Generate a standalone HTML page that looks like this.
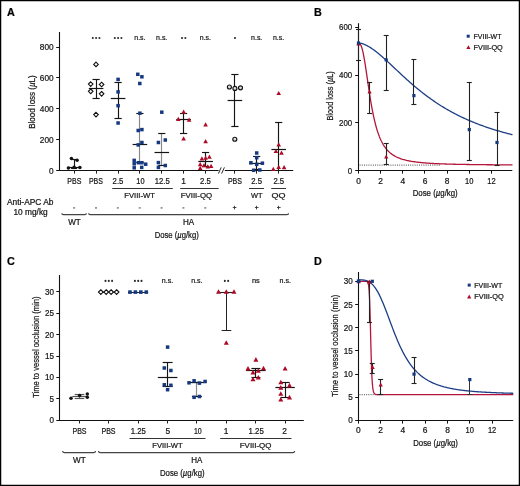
<!DOCTYPE html>
<html><head><meta charset="utf-8"><style>
html,body{margin:0;padding:0;background:#fff;}
svg{display:block;will-change:transform;}
text{font-family:"Liberation Sans", sans-serif;stroke:#151515;stroke-width:0.22px;}
</style></head><body>
<svg width="520" height="486" viewBox="0 0 520 486">
<rect width="520" height="486" fill="#fff"/>
<text x="6.90" y="15.70" font-size="10.8" text-anchor="start" fill="#000" font-weight="bold">A</text>
<line x1="59.50" y1="32.00" x2="59.50" y2="170.90" stroke="#111" stroke-width="1.1"/>
<line x1="56.20" y1="170.50" x2="59.50" y2="170.50" stroke="#111" stroke-width="1"/>
<text x="53.60" y="173.50" font-size="8.6" text-anchor="end" fill="#151515" textLength="4.60" lengthAdjust="spacingAndGlyphs">0</text>
<line x1="56.20" y1="139.50" x2="59.50" y2="139.50" stroke="#111" stroke-width="1"/>
<text x="53.60" y="142.65" font-size="8.6" text-anchor="end" fill="#151515" textLength="13.80" lengthAdjust="spacingAndGlyphs">200</text>
<line x1="56.20" y1="108.50" x2="59.50" y2="108.50" stroke="#111" stroke-width="1"/>
<text x="53.60" y="111.80" font-size="8.6" text-anchor="end" fill="#151515" textLength="13.80" lengthAdjust="spacingAndGlyphs">400</text>
<line x1="56.20" y1="77.50" x2="59.50" y2="77.50" stroke="#111" stroke-width="1"/>
<text x="53.60" y="80.95" font-size="8.6" text-anchor="end" fill="#151515" textLength="13.80" lengthAdjust="spacingAndGlyphs">600</text>
<line x1="56.20" y1="47.50" x2="59.50" y2="47.50" stroke="#111" stroke-width="1"/>
<text x="53.60" y="50.10" font-size="8.6" text-anchor="end" fill="#151515" textLength="13.80" lengthAdjust="spacingAndGlyphs">800</text>
<text x="35.00" y="102.05" font-size="9.6" text-anchor="middle" fill="#151515" textLength="53.60" lengthAdjust="spacingAndGlyphs" transform="rotate(-90 35.00 102.05)">Blood loss (<tspan font-style="italic">µ</tspan>L)</text>
<line x1="59.00" y1="170.50" x2="218.60" y2="170.50" stroke="#111" stroke-width="1.1"/>
<line x1="224.80" y1="170.50" x2="293.20" y2="170.50" stroke="#111" stroke-width="1.1"/>
<line x1="218.40" y1="173.60" x2="221.20" y2="167.40" stroke="#111" stroke-width="0.9"/>
<line x1="221.60" y1="173.60" x2="224.40" y2="167.40" stroke="#111" stroke-width="0.9"/>
<line x1="74.50" y1="170.40" x2="74.50" y2="173.60" stroke="#222" stroke-width="1"/>
<line x1="96.50" y1="170.40" x2="96.50" y2="173.60" stroke="#222" stroke-width="1"/>
<line x1="118.50" y1="170.40" x2="118.50" y2="173.60" stroke="#222" stroke-width="1"/>
<line x1="139.50" y1="170.40" x2="139.50" y2="173.60" stroke="#222" stroke-width="1"/>
<line x1="161.50" y1="170.40" x2="161.50" y2="173.60" stroke="#222" stroke-width="1"/>
<line x1="183.50" y1="170.40" x2="183.50" y2="173.60" stroke="#222" stroke-width="1"/>
<line x1="205.50" y1="170.40" x2="205.50" y2="173.60" stroke="#222" stroke-width="1"/>
<line x1="234.50" y1="170.40" x2="234.50" y2="173.60" stroke="#222" stroke-width="1"/>
<line x1="256.50" y1="170.40" x2="256.50" y2="173.60" stroke="#222" stroke-width="1"/>
<line x1="278.50" y1="170.40" x2="278.50" y2="173.60" stroke="#222" stroke-width="1"/>
<line x1="74.50" y1="159.40" x2="74.50" y2="168.60" stroke="#151515" stroke-width="1.15"/>
<line x1="71.10" y1="159.50" x2="77.10" y2="159.50" stroke="#151515" stroke-width="1.15"/>
<line x1="71.10" y1="168.50" x2="77.10" y2="168.50" stroke="#151515" stroke-width="1.15"/>
<line x1="68.10" y1="167.50" x2="80.10" y2="167.50" stroke="#151515" stroke-width="1.2"/>
<circle cx="71.40" cy="158.50" r="1.75" fill="#111"/>
<circle cx="77.10" cy="160.30" r="1.75" fill="#111"/>
<circle cx="68.40" cy="167.90" r="1.75" fill="#111"/>
<circle cx="74.10" cy="167.20" r="1.75" fill="#111"/>
<circle cx="79.90" cy="167.50" r="1.75" fill="#111"/>
<line x1="96.50" y1="79.40" x2="96.50" y2="98.90" stroke="#151515" stroke-width="1.15"/>
<line x1="92.50" y1="79.50" x2="99.70" y2="79.50" stroke="#151515" stroke-width="1.15"/>
<line x1="92.50" y1="98.50" x2="99.70" y2="98.50" stroke="#151515" stroke-width="1.15"/>
<line x1="88.80" y1="88.50" x2="103.40" y2="88.50" stroke="#151515" stroke-width="1.2"/>
<path d="M96.00 62.10L98.30 64.40L96.00 66.70L93.70 64.40Z" fill="#fff" stroke="#111" stroke-width="1.1"/>
<path d="M90.70 81.80L93.00 84.10L90.70 86.40L88.40 84.10Z" fill="#fff" stroke="#111" stroke-width="1.1"/>
<path d="M101.60 82.20L103.90 84.50L101.60 86.80L99.30 84.50Z" fill="#fff" stroke="#111" stroke-width="1.1"/>
<path d="M90.70 89.00L93.00 91.30L90.70 93.60L88.40 91.30Z" fill="#fff" stroke="#111" stroke-width="1.1"/>
<path d="M101.60 91.50L103.90 93.80L101.60 96.10L99.30 93.80Z" fill="#fff" stroke="#111" stroke-width="1.1"/>
<path d="M96.00 112.30L98.30 114.60L96.00 116.90L93.70 114.60Z" fill="#fff" stroke="#111" stroke-width="1.1"/>
<line x1="118.50" y1="82.90" x2="118.50" y2="118.90" stroke="#151515" stroke-width="1.15"/>
<line x1="114.50" y1="82.50" x2="121.70" y2="82.50" stroke="#151515" stroke-width="1.15"/>
<line x1="114.50" y1="118.50" x2="121.70" y2="118.50" stroke="#151515" stroke-width="1.15"/>
<line x1="110.80" y1="98.50" x2="125.40" y2="98.50" stroke="#151515" stroke-width="1.2"/>
<rect x="116.35" y="77.65" width="3.5" height="3.5" fill="#15387f"/>
<rect x="116.35" y="90.15" width="3.5" height="3.5" fill="#15387f"/>
<rect x="116.35" y="103.95" width="3.5" height="3.5" fill="#15387f"/>
<rect x="116.35" y="121.25" width="3.5" height="3.5" fill="#15387f"/>
<line x1="139.50" y1="113.20" x2="139.50" y2="162.80" stroke="#888" stroke-width="1.15"/>
<line x1="136.30" y1="113.50" x2="143.50" y2="113.50" stroke="#151515" stroke-width="1.15"/>
<line x1="136.30" y1="162.50" x2="143.50" y2="162.50" stroke="#151515" stroke-width="1.15"/>
<line x1="132.60" y1="144.50" x2="147.20" y2="144.50" stroke="#151515" stroke-width="1.2"/>
<rect x="136.05" y="72.55" width="3.5" height="3.5" fill="#15387f"/>
<rect x="140.15" y="75.05" width="3.5" height="3.5" fill="#15387f"/>
<rect x="138.05" y="81.75" width="3.5" height="3.5" fill="#15387f"/>
<rect x="138.15" y="111.45" width="3.5" height="3.5" fill="#15387f"/>
<rect x="136.45" y="128.75" width="3.5" height="3.5" fill="#15387f"/>
<rect x="140.15" y="127.85" width="3.5" height="3.5" fill="#15387f"/>
<rect x="136.45" y="143.15" width="3.5" height="3.5" fill="#15387f"/>
<rect x="140.15" y="140.75" width="3.5" height="3.5" fill="#15387f"/>
<rect x="132.45" y="158.65" width="3.5" height="3.5" fill="#15387f"/>
<rect x="132.45" y="162.05" width="3.5" height="3.5" fill="#15387f"/>
<rect x="132.45" y="166.05" width="3.5" height="3.5" fill="#15387f"/>
<rect x="136.65" y="160.95" width="3.5" height="3.5" fill="#15387f"/>
<rect x="140.15" y="160.95" width="3.5" height="3.5" fill="#15387f"/>
<rect x="143.95" y="162.45" width="3.5" height="3.5" fill="#15387f"/>
<rect x="139.95" y="165.65" width="3.5" height="3.5" fill="#15387f"/>
<line x1="161.50" y1="133.10" x2="161.50" y2="165.20" stroke="#888" stroke-width="1.15"/>
<line x1="158.20" y1="133.50" x2="165.40" y2="133.50" stroke="#151515" stroke-width="1.15"/>
<line x1="158.20" y1="165.50" x2="165.40" y2="165.50" stroke="#151515" stroke-width="1.15"/>
<line x1="154.50" y1="152.50" x2="169.10" y2="152.50" stroke="#151515" stroke-width="1.2"/>
<rect x="160.05" y="110.45" width="3.5" height="3.5" fill="#15387f"/>
<rect x="156.65" y="140.75" width="3.5" height="3.5" fill="#15387f"/>
<rect x="163.55" y="138.25" width="3.5" height="3.5" fill="#15387f"/>
<rect x="156.65" y="160.85" width="3.5" height="3.5" fill="#15387f"/>
<rect x="163.55" y="163.75" width="3.5" height="3.5" fill="#15387f"/>
<rect x="156.65" y="165.65" width="3.5" height="3.5" fill="#15387f"/>
<line x1="183.50" y1="113.30" x2="183.50" y2="133.50" stroke="#151515" stroke-width="1.15"/>
<line x1="180.00" y1="113.50" x2="187.20" y2="113.50" stroke="#151515" stroke-width="1.15"/>
<line x1="180.00" y1="133.50" x2="187.20" y2="133.50" stroke="#151515" stroke-width="1.15"/>
<line x1="176.30" y1="119.50" x2="190.90" y2="119.50" stroke="#151515" stroke-width="1.2"/>
<path d="M183.60 109.48L185.90 113.68L181.30 113.68Z" fill="#ad0a26"/>
<path d="M178.30 116.68L180.60 120.88L176.00 120.88Z" fill="#ad0a26"/>
<path d="M189.10 117.58L191.40 121.78L186.80 121.78Z" fill="#ad0a26"/>
<path d="M183.60 136.18L185.90 140.38L181.30 140.38Z" fill="#ad0a26"/>
<line x1="205.50" y1="152.70" x2="205.50" y2="166.70" stroke="#151515" stroke-width="1.15"/>
<line x1="202.00" y1="152.50" x2="209.20" y2="152.50" stroke="#151515" stroke-width="1.15"/>
<line x1="202.00" y1="166.50" x2="209.20" y2="166.50" stroke="#151515" stroke-width="1.15"/>
<line x1="198.30" y1="161.50" x2="212.90" y2="161.50" stroke="#151515" stroke-width="1.2"/>
<path d="M205.60 122.18L207.90 126.38L203.30 126.38Z" fill="#ad0a26"/>
<path d="M205.60 138.98L207.90 143.18L203.30 143.18Z" fill="#ad0a26"/>
<path d="M201.90 156.28L204.20 160.48L199.60 160.48Z" fill="#ad0a26"/>
<path d="M205.60 155.48L207.90 159.68L203.30 159.68Z" fill="#ad0a26"/>
<path d="M209.40 154.58L211.70 158.78L207.10 158.78Z" fill="#ad0a26"/>
<path d="M200.20 161.98L202.50 166.18L197.90 166.18Z" fill="#ad0a26"/>
<path d="M204.00 162.98L206.30 167.18L201.70 167.18Z" fill="#ad0a26"/>
<path d="M207.80 164.18L210.10 168.38L205.50 168.38Z" fill="#ad0a26"/>
<path d="M211.10 163.68L213.40 167.88L208.80 167.88Z" fill="#ad0a26"/>
<path d="M200.20 165.78L202.50 169.98L197.90 169.98Z" fill="#ad0a26"/>
<line x1="234.50" y1="74.80" x2="234.50" y2="126.30" stroke="#151515" stroke-width="1.15"/>
<line x1="231.30" y1="74.50" x2="238.50" y2="74.50" stroke="#151515" stroke-width="1.15"/>
<line x1="231.30" y1="126.50" x2="238.50" y2="126.50" stroke="#151515" stroke-width="1.15"/>
<line x1="227.60" y1="100.50" x2="242.20" y2="100.50" stroke="#151515" stroke-width="1.2"/>
<circle cx="229.40" cy="87.00" r="2.0" fill="#ddd" stroke="#111" stroke-width="1.15"/>
<circle cx="234.90" cy="88.40" r="2.0" fill="#ddd" stroke="#111" stroke-width="1.15"/>
<circle cx="240.50" cy="87.80" r="2.0" fill="#ddd" stroke="#111" stroke-width="1.15"/>
<circle cx="234.80" cy="139.20" r="2.0" fill="#ddd" stroke="#111" stroke-width="1.15"/>
<line x1="256.50" y1="156.60" x2="256.50" y2="169.50" stroke="#151515" stroke-width="1.15"/>
<line x1="253.10" y1="156.50" x2="260.30" y2="156.50" stroke="#151515" stroke-width="1.15"/>
<line x1="253.10" y1="169.50" x2="260.30" y2="169.50" stroke="#151515" stroke-width="1.15"/>
<line x1="249.40" y1="163.50" x2="264.00" y2="163.50" stroke="#151515" stroke-width="1.2"/>
<rect x="254.95" y="151.25" width="3.5" height="3.5" fill="#15387f"/>
<rect x="254.95" y="155.95" width="3.5" height="3.5" fill="#15387f"/>
<rect x="249.15" y="161.05" width="3.5" height="3.5" fill="#15387f"/>
<rect x="254.95" y="162.55" width="3.5" height="3.5" fill="#15387f"/>
<rect x="260.65" y="161.45" width="3.5" height="3.5" fill="#15387f"/>
<rect x="251.85" y="168.55" width="3.5" height="3.5" fill="#15387f"/>
<rect x="258.05" y="168.25" width="3.5" height="3.5" fill="#15387f"/>
<line x1="275.10" y1="122.50" x2="282.30" y2="122.50" stroke="#151515" stroke-width="1.15"/>
<line x1="271.40" y1="149.50" x2="286.00" y2="149.50" stroke="#151515" stroke-width="1.2"/>
<line x1="278.50" y1="122.70" x2="278.50" y2="170.40" stroke="#151515" stroke-width="1.15"/>
<path d="M278.70 90.88L281.00 95.08L276.40 95.08Z" fill="#ad0a26"/>
<path d="M278.70 142.28L281.00 146.48L276.40 146.48Z" fill="#ad0a26"/>
<path d="M275.90 148.88L278.20 153.08L273.60 153.08Z" fill="#ad0a26"/>
<path d="M281.50 150.48L283.80 154.68L279.20 154.68Z" fill="#ad0a26"/>
<path d="M273.30 166.78L275.60 170.98L271.00 170.98Z" fill="#ad0a26"/>
<path d="M278.70 164.68L281.00 168.88L276.40 168.88Z" fill="#ad0a26"/>
<path d="M284.10 164.98L286.40 169.18L281.80 169.18Z" fill="#ad0a26"/>
<circle cx="92.80" cy="38.00" r="1.05" fill="#2a2a2a"/>
<circle cx="96.10" cy="38.00" r="1.05" fill="#2a2a2a"/>
<circle cx="99.40" cy="38.00" r="1.05" fill="#2a2a2a"/>
<circle cx="114.80" cy="38.00" r="1.05" fill="#2a2a2a"/>
<circle cx="118.10" cy="38.00" r="1.05" fill="#2a2a2a"/>
<circle cx="121.40" cy="38.00" r="1.05" fill="#2a2a2a"/>
<text x="139.90" y="40.20" font-size="7.6" text-anchor="middle" fill="#151515" textLength="11.20" lengthAdjust="spacingAndGlyphs">n.s.</text>
<text x="161.70" y="40.20" font-size="7.6" text-anchor="middle" fill="#151515" textLength="11.20" lengthAdjust="spacingAndGlyphs">n.s.</text>
<circle cx="182.05" cy="38.00" r="1.05" fill="#2a2a2a"/>
<circle cx="185.35" cy="38.00" r="1.05" fill="#2a2a2a"/>
<text x="205.40" y="40.20" font-size="7.6" text-anchor="middle" fill="#151515" textLength="11.20" lengthAdjust="spacingAndGlyphs">n.s.</text>
<circle cx="235.00" cy="38.00" r="1.05" fill="#2a2a2a"/>
<text x="256.70" y="40.20" font-size="7.6" text-anchor="middle" fill="#151515" textLength="11.20" lengthAdjust="spacingAndGlyphs">n.s.</text>
<text x="278.50" y="40.20" font-size="7.6" text-anchor="middle" fill="#151515" textLength="11.20" lengthAdjust="spacingAndGlyphs">n.s.</text>
<text x="74.30" y="183.50" font-size="8.4" text-anchor="middle" fill="#151515" textLength="14.00" lengthAdjust="spacingAndGlyphs">PBS</text>
<text x="95.90" y="183.50" font-size="8.4" text-anchor="middle" fill="#151515" textLength="14.00" lengthAdjust="spacingAndGlyphs">PBS</text>
<text x="118.00" y="183.50" font-size="8.4" text-anchor="middle" fill="#151515" textLength="10.80" lengthAdjust="spacingAndGlyphs">2.5</text>
<text x="140.40" y="183.50" font-size="8.4" text-anchor="middle" fill="#151515" textLength="8.20" lengthAdjust="spacingAndGlyphs">10</text>
<text x="162.20" y="183.50" font-size="8.4" text-anchor="middle" fill="#151515" textLength="15.00" lengthAdjust="spacingAndGlyphs">12.5</text>
<text x="183.50" y="183.50" font-size="8.4" text-anchor="middle" fill="#151515">1</text>
<text x="205.50" y="183.50" font-size="8.4" text-anchor="middle" fill="#151515" textLength="10.80" lengthAdjust="spacingAndGlyphs">2.5</text>
<text x="234.90" y="183.50" font-size="8.4" text-anchor="middle" fill="#151515" textLength="14.00" lengthAdjust="spacingAndGlyphs">PBS</text>
<text x="256.70" y="183.50" font-size="8.4" text-anchor="middle" fill="#151515" textLength="10.80" lengthAdjust="spacingAndGlyphs">2.5</text>
<text x="278.80" y="183.50" font-size="8.4" text-anchor="middle" fill="#151515" textLength="10.80" lengthAdjust="spacingAndGlyphs">2.5</text>
<line x1="112.30" y1="188.50" x2="172.80" y2="188.50" stroke="#333" stroke-width="1"/>
<line x1="180.20" y1="188.50" x2="218.70" y2="188.50" stroke="#333" stroke-width="1"/>
<line x1="249.00" y1="188.50" x2="264.00" y2="188.50" stroke="#333" stroke-width="1"/>
<line x1="271.20" y1="188.50" x2="286.00" y2="188.50" stroke="#333" stroke-width="1"/>
<text x="139.60" y="198.00" font-size="7.6" text-anchor="middle" fill="#151515" textLength="30.60" lengthAdjust="spacingAndGlyphs">FVIII-WT</text>
<text x="196.40" y="198.00" font-size="7.6" text-anchor="middle" fill="#151515" textLength="31.40" lengthAdjust="spacingAndGlyphs">FVIII-QQ</text>
<text x="256.70" y="198.00" font-size="7.6" text-anchor="middle" fill="#151515" textLength="11.50" lengthAdjust="spacingAndGlyphs">WT</text>
<text x="278.60" y="198.00" font-size="7.6" text-anchor="middle" fill="#151515" textLength="14.00" lengthAdjust="spacingAndGlyphs">QQ</text>
<text x="6.90" y="205.40" font-size="8.2" text-anchor="start" fill="#151515" textLength="46.60" lengthAdjust="spacingAndGlyphs">Anti-APC Ab</text>
<text x="13.50" y="215.30" font-size="8.2" text-anchor="start" fill="#151515" textLength="34.20" lengthAdjust="spacingAndGlyphs">10 mg/kg</text>
<rect x="73.10" y="207.2" width="2.0" height="1.4" fill="#7a7a7a"/>
<rect x="95.00" y="207.2" width="2.0" height="1.4" fill="#7a7a7a"/>
<rect x="116.80" y="207.2" width="2.0" height="1.4" fill="#7a7a7a"/>
<rect x="138.70" y="207.2" width="2.0" height="1.4" fill="#7a7a7a"/>
<rect x="160.60" y="207.2" width="2.0" height="1.4" fill="#7a7a7a"/>
<rect x="182.40" y="207.2" width="2.0" height="1.4" fill="#7a7a7a"/>
<rect x="204.30" y="207.2" width="2.0" height="1.4" fill="#7a7a7a"/>
<line x1="232.80" y1="207.50" x2="236.40" y2="207.50" stroke="#333" stroke-width="0.9"/>
<line x1="234.50" y1="205.80" x2="234.50" y2="209.40" stroke="#333" stroke-width="0.9"/>
<line x1="254.90" y1="207.50" x2="258.50" y2="207.50" stroke="#333" stroke-width="0.9"/>
<line x1="256.50" y1="205.80" x2="256.50" y2="209.40" stroke="#333" stroke-width="0.9"/>
<line x1="277.00" y1="207.50" x2="280.60" y2="207.50" stroke="#333" stroke-width="0.9"/>
<line x1="278.50" y1="205.80" x2="278.50" y2="209.40" stroke="#333" stroke-width="0.9"/>
<path d="M61.90 213.20Q61.90 214.70 63.40 214.70L84.80 214.70Q86.30 214.70 86.30 213.20" fill="none" stroke="#444" stroke-width="1.3"/>
<path d="M88.70 213.20Q88.70 214.70 90.20 214.70L287.00 214.70Q288.50 214.70 288.50 213.20" fill="none" stroke="#444" stroke-width="1.3"/>
<text x="74.50" y="224.60" font-size="8.2" text-anchor="middle" fill="#151515" textLength="12.60" lengthAdjust="spacingAndGlyphs">WT</text>
<text x="188.60" y="224.70" font-size="8.2" text-anchor="middle" fill="#151515" textLength="11.20" lengthAdjust="spacingAndGlyphs">HA</text>
<text x="176.70" y="238.30" font-size="8.4" text-anchor="middle" fill="#151515" textLength="44.10" lengthAdjust="spacingAndGlyphs">Dose (<tspan font-style="italic">µ</tspan>g/kg)</text>
<text x="314.00" y="15.90" font-size="10.8" text-anchor="start" fill="#000" font-weight="bold">B</text>
<line x1="358.50" y1="23.20" x2="358.50" y2="170.90" stroke="#111" stroke-width="1.1"/>
<line x1="358.10" y1="170.50" x2="512.30" y2="170.50" stroke="#111" stroke-width="1.1"/>
<line x1="355.20" y1="170.50" x2="358.60" y2="170.50" stroke="#111" stroke-width="1"/>
<text x="352.20" y="173.50" font-size="8.6" text-anchor="end" fill="#151515" textLength="4.40" lengthAdjust="spacingAndGlyphs">0</text>
<line x1="355.20" y1="122.50" x2="358.60" y2="122.50" stroke="#111" stroke-width="1"/>
<text x="352.20" y="125.80" font-size="8.6" text-anchor="end" fill="#151515" textLength="13.20" lengthAdjust="spacingAndGlyphs">200</text>
<line x1="355.20" y1="75.50" x2="358.60" y2="75.50" stroke="#111" stroke-width="1"/>
<text x="352.20" y="78.10" font-size="8.6" text-anchor="end" fill="#151515" textLength="13.20" lengthAdjust="spacingAndGlyphs">400</text>
<line x1="355.20" y1="27.50" x2="358.60" y2="27.50" stroke="#111" stroke-width="1"/>
<text x="352.20" y="30.40" font-size="8.6" text-anchor="end" fill="#151515" textLength="13.20" lengthAdjust="spacingAndGlyphs">600</text>
<text x="333.20" y="95.90" font-size="9.6" text-anchor="middle" fill="#151515" textLength="49.30" lengthAdjust="spacingAndGlyphs" transform="rotate(-90 333.20 95.90)">Blood loss (<tspan font-style="italic">µ</tspan>L)</text>
<line x1="358.50" y1="170.40" x2="358.50" y2="173.60" stroke="#111" stroke-width="1"/>
<text x="358.50" y="183.50" font-size="8.4" text-anchor="middle" fill="#151515">0</text>
<line x1="380.50" y1="170.40" x2="380.50" y2="173.60" stroke="#111" stroke-width="1"/>
<text x="380.66" y="183.50" font-size="8.4" text-anchor="middle" fill="#151515">2</text>
<line x1="402.50" y1="170.40" x2="402.50" y2="173.60" stroke="#111" stroke-width="1"/>
<text x="402.82" y="183.50" font-size="8.4" text-anchor="middle" fill="#151515">4</text>
<line x1="424.50" y1="170.40" x2="424.50" y2="173.60" stroke="#111" stroke-width="1"/>
<text x="424.98" y="183.50" font-size="8.4" text-anchor="middle" fill="#151515">6</text>
<line x1="447.50" y1="170.40" x2="447.50" y2="173.60" stroke="#111" stroke-width="1"/>
<text x="447.14" y="183.50" font-size="8.4" text-anchor="middle" fill="#151515">8</text>
<line x1="469.50" y1="170.40" x2="469.50" y2="173.60" stroke="#111" stroke-width="1"/>
<text x="469.30" y="183.50" font-size="8.4" text-anchor="middle" fill="#151515" textLength="8.40" lengthAdjust="spacingAndGlyphs">10</text>
<line x1="491.50" y1="170.40" x2="491.50" y2="173.60" stroke="#111" stroke-width="1"/>
<text x="491.46" y="183.50" font-size="8.4" text-anchor="middle" fill="#151515" textLength="8.40" lengthAdjust="spacingAndGlyphs">12</text>
<text x="435.20" y="196.20" font-size="8.4" text-anchor="middle" fill="#151515" textLength="45.00" lengthAdjust="spacingAndGlyphs">Dose (<tspan font-style="italic">µ</tspan>g/kg)</text>
<line x1="359.60" y1="165.1" x2="440" y2="165.1" stroke="#333" stroke-width="0.9" stroke-dasharray="1 1.2"/>
<path d="M358.50 42.99 L359.27 43.14 L360.05 43.76 L360.82 45.01 L361.60 46.96 L362.37 49.61 L363.14 52.95 L363.92 56.90 L364.69 61.36 L365.47 66.22 L366.24 71.35 L367.01 76.64 L367.79 81.96 L368.56 87.23 L369.34 92.36 L370.11 97.30 L370.88 102.00 L371.66 106.44 L372.43 110.61 L373.20 114.50 L373.98 118.11 L374.75 121.45 L375.53 124.53 L376.30 127.37 L377.07 129.99 L377.85 132.39 L378.62 134.60 L379.40 136.63 L380.17 138.50 L380.94 140.21 L381.72 141.79 L382.49 143.25 L383.27 144.59 L384.04 145.82 L384.81 146.96 L385.59 148.01 L386.36 148.99 L387.14 149.89 L387.91 150.73 L388.68 151.50 L389.46 152.23 L390.23 152.90 L391.01 153.52 L391.78 154.11 L392.55 154.65 L393.33 155.16 L394.10 155.63 L394.87 156.08 L395.65 156.50 L396.42 156.89 L397.20 157.26 L397.97 157.60 L398.74 157.93 L399.52 158.23 L400.29 158.52 L401.07 158.80 L401.84 159.05 L402.61 159.30 L403.39 159.53 L404.16 159.74 L404.94 159.95 L405.71 160.15 L406.48 160.33 L407.26 160.51 L408.03 160.68 L408.81 160.84 L409.58 160.99 L410.35 161.13 L411.13 161.27 L411.90 161.40 L412.68 161.53 L413.45 161.64 L414.22 161.76 L415.00 161.87 L415.77 161.97 L416.54 162.07 L417.32 162.17 L418.09 162.26 L418.87 162.35 L419.64 162.43 L420.41 162.51 L421.19 162.59 L421.96 162.66 L422.74 162.73 L423.51 162.80 L424.28 162.87 L425.06 162.93 L425.83 162.99 L426.61 163.05 L427.38 163.11 L428.15 163.16 L428.93 163.21 L429.70 163.27 L430.48 163.31 L431.25 163.36 L432.02 163.41 L432.80 163.45 L433.57 163.49 L434.35 163.53 L435.12 163.57 L435.89 163.61 L436.67 163.65 L437.44 163.68 L438.21 163.72 L438.99 163.75 L439.76 163.79 L440.54 163.82 L441.31 163.85 L442.08 163.88 L442.86 163.91 L443.63 163.93 L444.41 163.96 L445.18 163.99 L445.95 164.01 L446.73 164.04 L447.50 164.06 L448.28 164.08 L449.05 164.11 L449.82 164.13 L450.60 164.15 L451.37 164.17 L452.15 164.19 L452.92 164.21 L453.69 164.23 L454.47 164.25 L455.24 164.27 L456.02 164.28 L456.79 164.30 L457.56 164.32 L458.34 164.33 L459.11 164.35 L459.88 164.36 L460.66 164.38 L461.43 164.39 L462.21 164.41 L462.98 164.42 L463.75 164.44 L464.53 164.45 L465.30 164.46 L466.08 164.47 L466.85 164.49 L467.62 164.50 L468.40 164.51 L469.17 164.52 L469.95 164.53 L470.72 164.54 L471.49 164.55 L472.27 164.57 L473.04 164.58 L473.82 164.59 L474.59 164.60 L475.36 164.60 L476.14 164.61 L476.91 164.62 L477.69 164.63 L478.46 164.64 L479.23 164.65 L480.01 164.66 L480.78 164.67 L481.55 164.67 L482.33 164.68 L483.10 164.69 L483.88 164.70 L484.65 164.70 L485.42 164.71 L486.20 164.72 L486.97 164.73 L487.75 164.73 L488.52 164.74 L489.29 164.75 L490.07 164.75 L490.84 164.76 L491.62 164.76 L492.39 164.77 L493.16 164.78 L493.94 164.78 L494.71 164.79 L495.49 164.79 L496.26 164.80 L497.03 164.80 L497.81 164.81 L498.58 164.81 L499.36 164.82 L500.13 164.82 L500.90 164.83 L501.68 164.83 L502.45 164.84 L503.22 164.84 L504.00 164.85 L504.77 164.85 L505.55 164.86 L506.32 164.86 L507.09 164.87 L507.87 164.87 L508.64 164.87 L509.42 164.88 L510.19 164.88 L510.96 164.89 L511.74 164.89 L512.51 164.89" fill="none" stroke="#b3163a" stroke-width="1.3" stroke-linejoin="round"/>
<path d="M358.50 42.99 L359.27 43.04 L360.05 43.14 L360.82 43.29 L361.60 43.47 L362.37 43.69 L363.14 43.95 L363.92 44.23 L364.69 44.54 L365.47 44.88 L366.24 45.25 L367.01 45.64 L367.79 46.05 L368.56 46.48 L369.34 46.94 L370.11 47.41 L370.88 47.91 L371.66 48.42 L372.43 48.95 L373.20 49.49 L373.98 50.05 L374.75 50.62 L375.53 51.21 L376.30 51.81 L377.07 52.42 L377.85 53.05 L378.62 53.68 L379.40 54.33 L380.17 54.98 L380.94 55.64 L381.72 56.31 L382.49 56.99 L383.27 57.67 L384.04 58.37 L384.81 59.06 L385.59 59.76 L386.36 60.47 L387.14 61.18 L387.91 61.90 L388.68 62.61 L389.46 63.34 L390.23 64.06 L391.01 64.78 L391.78 65.51 L392.55 66.24 L393.33 66.97 L394.10 67.70 L394.87 68.43 L395.65 69.16 L396.42 69.88 L397.20 70.61 L397.97 71.34 L398.74 72.06 L399.52 72.79 L400.29 73.51 L401.07 74.23 L401.84 74.95 L402.61 75.67 L403.39 76.38 L404.16 77.09 L404.94 77.80 L405.71 78.50 L406.48 79.20 L407.26 79.90 L408.03 80.59 L408.81 81.28 L409.58 81.96 L410.35 82.65 L411.13 83.32 L411.90 84.00 L412.68 84.66 L413.45 85.33 L414.22 85.99 L415.00 86.64 L415.77 87.29 L416.54 87.94 L417.32 88.58 L418.09 89.22 L418.87 89.85 L419.64 90.47 L420.41 91.10 L421.19 91.71 L421.96 92.32 L422.74 92.93 L423.51 93.53 L424.28 94.13 L425.06 94.72 L425.83 95.30 L426.61 95.88 L427.38 96.46 L428.15 97.03 L428.93 97.59 L429.70 98.15 L430.48 98.71 L431.25 99.26 L432.02 99.80 L432.80 100.34 L433.57 100.88 L434.35 101.41 L435.12 101.93 L435.89 102.45 L436.67 102.96 L437.44 103.47 L438.21 103.98 L438.99 104.48 L439.76 104.97 L440.54 105.46 L441.31 105.95 L442.08 106.43 L442.86 106.90 L443.63 107.37 L444.41 107.84 L445.18 108.30 L445.95 108.75 L446.73 109.21 L447.50 109.65 L448.28 110.10 L449.05 110.53 L449.82 110.97 L450.60 111.40 L451.37 111.82 L452.15 112.24 L452.92 112.66 L453.69 113.07 L454.47 113.48 L455.24 113.88 L456.02 114.28 L456.79 114.68 L457.56 115.07 L458.34 115.46 L459.11 115.84 L459.88 116.22 L460.66 116.60 L461.43 116.97 L462.21 117.34 L462.98 117.70 L463.75 118.06 L464.53 118.42 L465.30 118.77 L466.08 119.12 L466.85 119.47 L467.62 119.81 L468.40 120.15 L469.17 120.48 L469.95 120.81 L470.72 121.14 L471.49 121.47 L472.27 121.79 L473.04 122.11 L473.82 122.42 L474.59 122.73 L475.36 123.04 L476.14 123.35 L476.91 123.65 L477.69 123.95 L478.46 124.25 L479.23 124.54 L480.01 124.83 L480.78 125.12 L481.55 125.40 L482.33 125.68 L483.10 125.96 L483.88 126.24 L484.65 126.51 L485.42 126.78 L486.20 127.05 L486.97 127.31 L487.75 127.58 L488.52 127.84 L489.29 128.09 L490.07 128.35 L490.84 128.60 L491.62 128.85 L492.39 129.10 L493.16 129.34 L493.94 129.58 L494.71 129.82 L495.49 130.06 L496.26 130.30 L497.03 130.53 L497.81 130.76 L498.58 130.99 L499.36 131.21 L500.13 131.44 L500.90 131.66 L501.68 131.88 L502.45 132.10 L503.22 132.31 L504.00 132.53 L504.77 132.74 L505.55 132.95 L506.32 133.15 L507.09 133.36 L507.87 133.56 L508.64 133.76 L509.42 133.96 L510.19 134.16 L510.96 134.36 L511.74 134.55 L512.51 134.74" fill="none" stroke="#1d3f85" stroke-width="1.3" stroke-linejoin="round"/>
<line x1="358.50" y1="29.70" x2="358.50" y2="60.30" stroke="#222" stroke-width="1.1"/>
<line x1="356.00" y1="29.50" x2="361.00" y2="29.50" stroke="#222" stroke-width="1.1"/>
<line x1="356.00" y1="60.50" x2="361.00" y2="60.50" stroke="#222" stroke-width="1.1"/>
<line x1="386.50" y1="35.00" x2="386.50" y2="90.10" stroke="#222" stroke-width="1.1"/>
<line x1="383.70" y1="35.50" x2="388.70" y2="35.50" stroke="#222" stroke-width="1.1"/>
<line x1="383.70" y1="90.50" x2="388.70" y2="90.50" stroke="#222" stroke-width="1.1"/>
<line x1="413.50" y1="59.30" x2="413.50" y2="104.20" stroke="#222" stroke-width="1.1"/>
<line x1="411.40" y1="59.50" x2="416.40" y2="59.50" stroke="#222" stroke-width="1.1"/>
<line x1="411.40" y1="104.50" x2="416.40" y2="104.50" stroke="#222" stroke-width="1.1"/>
<line x1="469.50" y1="82.50" x2="469.50" y2="160.40" stroke="#222" stroke-width="1.1"/>
<line x1="466.80" y1="82.50" x2="471.80" y2="82.50" stroke="#222" stroke-width="1.1"/>
<line x1="466.80" y1="160.50" x2="471.80" y2="160.50" stroke="#222" stroke-width="1.1"/>
<line x1="497.50" y1="112.80" x2="497.50" y2="165.00" stroke="#222" stroke-width="1.1"/>
<line x1="494.50" y1="112.50" x2="499.50" y2="112.50" stroke="#222" stroke-width="1.1"/>
<line x1="494.50" y1="165.50" x2="499.50" y2="165.50" stroke="#222" stroke-width="1.1"/>
<line x1="369.50" y1="82.30" x2="369.50" y2="113.30" stroke="#222" stroke-width="1.1"/>
<line x1="367.08" y1="82.50" x2="372.08" y2="82.50" stroke="#222" stroke-width="1.1"/>
<line x1="367.08" y1="113.50" x2="372.08" y2="113.50" stroke="#222" stroke-width="1.1"/>
<line x1="386.50" y1="143.20" x2="386.50" y2="164.20" stroke="#222" stroke-width="1.1"/>
<line x1="383.70" y1="143.50" x2="388.70" y2="143.50" stroke="#222" stroke-width="1.1"/>
<line x1="383.70" y1="164.50" x2="388.70" y2="164.50" stroke="#222" stroke-width="1.1"/>
<path d="M358.40 41.60L360.50 45.60L356.30 45.60Z" fill="#ad0a26"/>
<rect x="356.90" y="41.40" width="3.2" height="3.2" fill="#15387f"/>
<rect x="384.60" y="58.30" width="3.2" height="3.2" fill="#15387f"/>
<rect x="412.30" y="94.00" width="3.2" height="3.2" fill="#15387f"/>
<rect x="467.70" y="128.00" width="3.2" height="3.2" fill="#15387f"/>
<rect x="495.40" y="140.90" width="3.2" height="3.2" fill="#15387f"/>
<path d="M369.58 89.50L371.68 93.50L367.48 93.50Z" fill="#ad0a26"/>
<path d="M386.20 154.40L388.30 158.40L384.10 158.40Z" fill="#ad0a26"/>
<rect x="466.70" y="34.70" width="3.0" height="3.0" fill="#15387f"/>
<text x="473.60" y="38.60" font-size="7.3" text-anchor="start" fill="#151515" textLength="27.80" lengthAdjust="spacingAndGlyphs">FVIII-WT</text>
<path d="M468.40 45.32L470.50 49.12L466.30 49.12Z" fill="#ad0a26"/>
<text x="473.60" y="49.60" font-size="7.3" text-anchor="start" fill="#151515" textLength="29.20" lengthAdjust="spacingAndGlyphs">FVIII-QQ</text>
<text x="6.90" y="265.00" font-size="10.8" text-anchor="start" fill="#000" font-weight="bold">C</text>
<line x1="59.50" y1="275.00" x2="59.50" y2="420.70" stroke="#111" stroke-width="1.1"/>
<line x1="59.20" y1="420.50" x2="303.80" y2="420.50" stroke="#111" stroke-width="1.1"/>
<line x1="56.30" y1="420.50" x2="59.70" y2="420.50" stroke="#111" stroke-width="1"/>
<text x="53.90" y="423.20" font-size="8.6" text-anchor="end" fill="#151515" textLength="4.50" lengthAdjust="spacingAndGlyphs">0</text>
<line x1="56.30" y1="398.50" x2="59.70" y2="398.50" stroke="#111" stroke-width="1"/>
<text x="53.90" y="401.80" font-size="8.6" text-anchor="end" fill="#151515" textLength="4.50" lengthAdjust="spacingAndGlyphs">5</text>
<line x1="56.30" y1="377.50" x2="59.70" y2="377.50" stroke="#111" stroke-width="1"/>
<text x="53.90" y="380.40" font-size="8.6" text-anchor="end" fill="#151515" textLength="9.00" lengthAdjust="spacingAndGlyphs">10</text>
<line x1="56.30" y1="356.50" x2="59.70" y2="356.50" stroke="#111" stroke-width="1"/>
<text x="53.90" y="359.00" font-size="8.6" text-anchor="end" fill="#151515" textLength="9.00" lengthAdjust="spacingAndGlyphs">15</text>
<line x1="56.30" y1="334.50" x2="59.70" y2="334.50" stroke="#111" stroke-width="1"/>
<text x="53.90" y="337.60" font-size="8.6" text-anchor="end" fill="#151515" textLength="9.00" lengthAdjust="spacingAndGlyphs">20</text>
<line x1="56.30" y1="313.50" x2="59.70" y2="313.50" stroke="#111" stroke-width="1"/>
<text x="53.90" y="316.20" font-size="8.6" text-anchor="end" fill="#151515" textLength="9.00" lengthAdjust="spacingAndGlyphs">25</text>
<line x1="56.30" y1="291.50" x2="59.70" y2="291.50" stroke="#111" stroke-width="1"/>
<text x="53.90" y="294.80" font-size="8.6" text-anchor="end" fill="#151515" textLength="9.00" lengthAdjust="spacingAndGlyphs">30</text>
<text x="38.80" y="347.20" font-size="9.6" text-anchor="middle" fill="#151515" textLength="101.30" lengthAdjust="spacingAndGlyphs" transform="rotate(-90 38.80 347.20)">Time to vessel occlusion (min)</text>
<line x1="79.50" y1="420.20" x2="79.50" y2="423.50" stroke="#222" stroke-width="1"/>
<line x1="108.50" y1="420.20" x2="108.50" y2="423.50" stroke="#222" stroke-width="1"/>
<line x1="138.50" y1="420.20" x2="138.50" y2="423.50" stroke="#222" stroke-width="1"/>
<line x1="167.50" y1="420.20" x2="167.50" y2="423.50" stroke="#222" stroke-width="1"/>
<line x1="196.50" y1="420.20" x2="196.50" y2="423.50" stroke="#222" stroke-width="1"/>
<line x1="226.50" y1="420.20" x2="226.50" y2="423.50" stroke="#222" stroke-width="1"/>
<line x1="255.50" y1="420.20" x2="255.50" y2="423.50" stroke="#222" stroke-width="1"/>
<line x1="285.50" y1="420.20" x2="285.50" y2="423.50" stroke="#222" stroke-width="1"/>
<line x1="79.50" y1="394.60" x2="79.50" y2="398.10" stroke="#777" stroke-width="1.15"/>
<line x1="74.70" y1="394.50" x2="84.30" y2="394.50" stroke="#555" stroke-width="1.15"/>
<line x1="74.70" y1="398.50" x2="84.30" y2="398.50" stroke="#555" stroke-width="1.15"/>
<line x1="72.30" y1="396.50" x2="86.70" y2="396.50" stroke="#555" stroke-width="1.2"/>
<circle cx="71.00" cy="398.20" r="1.75" fill="#111"/>
<circle cx="79.60" cy="395.60" r="1.75" fill="#111"/>
<circle cx="87.30" cy="394.10" r="1.75" fill="#111"/>
<circle cx="87.30" cy="397.20" r="1.75" fill="#111"/>
<line x1="98.50" y1="292.50" x2="119.00" y2="292.50" stroke="#222" stroke-width="1"/>
<path d="M100.80 289.75L103.15 292.10L100.80 294.45L98.45 292.10Z" fill="#fff" stroke="#111" stroke-width="1.1"/>
<path d="M106.20 289.75L108.55 292.10L106.20 294.45L103.85 292.10Z" fill="#fff" stroke="#111" stroke-width="1.1"/>
<path d="M111.10 289.75L113.45 292.10L111.10 294.45L108.75 292.10Z" fill="#fff" stroke="#111" stroke-width="1.1"/>
<path d="M116.60 289.75L118.95 292.10L116.60 294.45L114.25 292.10Z" fill="#fff" stroke="#111" stroke-width="1.1"/>
<line x1="128.00" y1="292.50" x2="148.00" y2="292.50" stroke="#222" stroke-width="1"/>
<rect x="128.20" y="290.30" width="3.6" height="3.6" fill="#15387f"/>
<rect x="133.60" y="290.30" width="3.6" height="3.6" fill="#15387f"/>
<rect x="139.00" y="290.30" width="3.6" height="3.6" fill="#15387f"/>
<rect x="144.50" y="290.30" width="3.6" height="3.6" fill="#15387f"/>
<line x1="167.50" y1="362.60" x2="167.50" y2="386.90" stroke="#151515" stroke-width="1.15"/>
<line x1="162.60" y1="362.50" x2="172.60" y2="362.50" stroke="#151515" stroke-width="1.15"/>
<line x1="162.60" y1="386.50" x2="172.60" y2="386.50" stroke="#151515" stroke-width="1.15"/>
<line x1="157.80" y1="377.50" x2="177.40" y2="377.50" stroke="#151515" stroke-width="1.2"/>
<rect x="165.85" y="345.35" width="3.5" height="3.5" fill="#15387f"/>
<rect x="162.55" y="366.25" width="3.5" height="3.5" fill="#15387f"/>
<rect x="169.15" y="368.75" width="3.5" height="3.5" fill="#15387f"/>
<rect x="162.55" y="383.05" width="3.5" height="3.5" fill="#15387f"/>
<rect x="169.15" y="383.55" width="3.5" height="3.5" fill="#15387f"/>
<rect x="165.85" y="387.95" width="3.5" height="3.5" fill="#15387f"/>
<line x1="196.50" y1="382.30" x2="196.50" y2="396.30" stroke="#888" stroke-width="1.15"/>
<line x1="191.90" y1="382.50" x2="201.90" y2="382.50" stroke="#151515" stroke-width="1.15"/>
<line x1="191.90" y1="396.50" x2="201.90" y2="396.50" stroke="#151515" stroke-width="1.15"/>
<line x1="189.90" y1="382.50" x2="203.90" y2="382.50" stroke="#151515" stroke-width="1.2"/>
<rect x="187.25" y="381.05" width="3.5" height="3.5" fill="#15387f"/>
<rect x="192.35" y="379.05" width="3.5" height="3.5" fill="#15387f"/>
<rect x="197.65" y="381.35" width="3.5" height="3.5" fill="#15387f"/>
<rect x="203.35" y="379.75" width="3.5" height="3.5" fill="#15387f"/>
<rect x="192.35" y="395.55" width="3.5" height="3.5" fill="#15387f"/>
<rect x="197.65" y="394.75" width="3.5" height="3.5" fill="#15387f"/>
<line x1="226.50" y1="292.00" x2="226.50" y2="330.30" stroke="#222" stroke-width="1"/>
<line x1="218.50" y1="292.50" x2="234.00" y2="292.50" stroke="#222" stroke-width="1.1"/>
<line x1="221.60" y1="330.50" x2="231.30" y2="330.50" stroke="#222" stroke-width="1"/>
<path d="M218.50 289.24L221.00 293.84L216.00 293.84Z" fill="#ad0a26"/>
<path d="M226.30 289.24L228.80 293.84L223.80 293.84Z" fill="#ad0a26"/>
<path d="M234.00 289.24L236.50 293.84L231.50 293.84Z" fill="#ad0a26"/>
<path d="M226.30 340.24L228.80 344.84L223.80 344.84Z" fill="#ad0a26"/>
<line x1="255.50" y1="368.30" x2="255.50" y2="377.00" stroke="#151515" stroke-width="1.15"/>
<line x1="251.40" y1="368.50" x2="260.40" y2="368.50" stroke="#151515" stroke-width="1.15"/>
<line x1="251.40" y1="377.50" x2="260.40" y2="377.50" stroke="#151515" stroke-width="1.15"/>
<line x1="246.20" y1="370.50" x2="265.60" y2="370.50" stroke="#151515" stroke-width="1.2"/>
<path d="M255.90 357.04L258.40 361.64L253.40 361.64Z" fill="#ad0a26"/>
<path d="M248.00 365.94L250.50 370.54L245.50 370.54Z" fill="#ad0a26"/>
<path d="M263.50 365.64L266.00 370.24L261.00 370.24Z" fill="#ad0a26"/>
<path d="M253.00 369.84L255.50 374.44L250.50 374.44Z" fill="#ad0a26"/>
<path d="M258.30 368.14L260.80 372.74L255.80 372.74Z" fill="#ad0a26"/>
<path d="M253.00 376.74L255.50 381.34L250.50 381.34Z" fill="#ad0a26"/>
<path d="M258.30 374.94L260.80 379.54L255.80 379.54Z" fill="#ad0a26"/>
<line x1="285.50" y1="382.10" x2="285.50" y2="397.10" stroke="#151515" stroke-width="1.15"/>
<line x1="280.60" y1="382.50" x2="289.60" y2="382.50" stroke="#151515" stroke-width="1.15"/>
<line x1="280.60" y1="397.50" x2="289.60" y2="397.50" stroke="#151515" stroke-width="1.15"/>
<line x1="275.40" y1="387.50" x2="294.80" y2="387.50" stroke="#151515" stroke-width="1.2"/>
<path d="M285.10 365.94L287.60 370.54L282.60 370.54Z" fill="#ad0a26"/>
<path d="M280.80 379.64L283.30 384.24L278.30 384.24Z" fill="#ad0a26"/>
<path d="M289.50 382.84L292.00 387.44L287.00 387.44Z" fill="#ad0a26"/>
<path d="M280.80 385.04L283.30 389.64L278.30 389.64Z" fill="#ad0a26"/>
<path d="M280.80 391.24L283.30 395.84L278.30 395.84Z" fill="#ad0a26"/>
<path d="M289.50 394.84L292.00 399.44L287.00 399.44Z" fill="#ad0a26"/>
<path d="M280.80 396.94L283.30 401.54L278.30 401.54Z" fill="#ad0a26"/>
<circle cx="105.50" cy="280.90" r="1.05" fill="#2a2a2a"/>
<circle cx="108.80" cy="280.90" r="1.05" fill="#2a2a2a"/>
<circle cx="112.10" cy="280.90" r="1.05" fill="#2a2a2a"/>
<circle cx="134.90" cy="280.90" r="1.05" fill="#2a2a2a"/>
<circle cx="138.20" cy="280.90" r="1.05" fill="#2a2a2a"/>
<circle cx="141.50" cy="280.90" r="1.05" fill="#2a2a2a"/>
<text x="167.50" y="282.70" font-size="7.6" text-anchor="middle" fill="#151515" textLength="11.40" lengthAdjust="spacingAndGlyphs">n.s.</text>
<text x="196.90" y="282.70" font-size="7.6" text-anchor="middle" fill="#151515" textLength="11.40" lengthAdjust="spacingAndGlyphs">n.s.</text>
<circle cx="224.85" cy="280.90" r="1.05" fill="#2a2a2a"/>
<circle cx="228.15" cy="280.90" r="1.05" fill="#2a2a2a"/>
<text x="255.80" y="282.70" font-size="7.6" text-anchor="middle" fill="#151515" textLength="7.80" lengthAdjust="spacingAndGlyphs">ns</text>
<text x="285.20" y="282.70" font-size="7.6" text-anchor="middle" fill="#151515" textLength="11.40" lengthAdjust="spacingAndGlyphs">n.s.</text>
<text x="79.50" y="433.60" font-size="8.4" text-anchor="middle" fill="#151515" textLength="14.10" lengthAdjust="spacingAndGlyphs">PBS</text>
<text x="108.50" y="433.60" font-size="8.4" text-anchor="middle" fill="#151515" textLength="14.10" lengthAdjust="spacingAndGlyphs">PBS</text>
<text x="138.30" y="433.60" font-size="8.4" text-anchor="middle" fill="#151515" textLength="15.20" lengthAdjust="spacingAndGlyphs">1.25</text>
<text x="167.80" y="433.60" font-size="8.4" text-anchor="middle" fill="#151515">5</text>
<text x="197.80" y="433.60" font-size="8.4" text-anchor="middle" fill="#151515" textLength="7.80" lengthAdjust="spacingAndGlyphs">10</text>
<text x="226.00" y="433.60" font-size="8.4" text-anchor="middle" fill="#151515">1</text>
<text x="256.20" y="433.60" font-size="8.4" text-anchor="middle" fill="#151515" textLength="15.20" lengthAdjust="spacingAndGlyphs">1.25</text>
<text x="284.50" y="433.60" font-size="8.4" text-anchor="middle" fill="#151515">2</text>
<line x1="129.50" y1="438.50" x2="205.50" y2="438.50" stroke="#333" stroke-width="1"/>
<line x1="220.20" y1="438.50" x2="291.50" y2="438.50" stroke="#333" stroke-width="1"/>
<text x="167.40" y="448.10" font-size="7.6" text-anchor="middle" fill="#151515" textLength="30.20" lengthAdjust="spacingAndGlyphs">FVIII-WT</text>
<text x="255.60" y="448.10" font-size="7.6" text-anchor="middle" fill="#151515" textLength="31.70" lengthAdjust="spacingAndGlyphs">FVIII-QQ</text>
<path d="M62.70 451.10Q62.70 452.60 64.20 452.60L94.00 452.60Q95.50 452.60 95.50 451.10" fill="none" stroke="#444" stroke-width="1.3"/>
<path d="M98.50 451.10Q98.50 452.60 100.00 452.60L293.10 452.60Q294.60 452.60 294.60 451.10" fill="none" stroke="#444" stroke-width="1.3"/>
<text x="79.40" y="463.00" font-size="8.2" text-anchor="middle" fill="#151515" textLength="12.70" lengthAdjust="spacingAndGlyphs">WT</text>
<text x="196.70" y="462.80" font-size="8.2" text-anchor="middle" fill="#151515" textLength="11.10" lengthAdjust="spacingAndGlyphs">HA</text>
<text x="182.30" y="476.10" font-size="8.4" text-anchor="middle" fill="#151515" textLength="44.60" lengthAdjust="spacingAndGlyphs">Dose (<tspan font-style="italic">µ</tspan>g/kg)</text>
<text x="314.00" y="265.10" font-size="10.8" text-anchor="start" fill="#000" font-weight="bold">D</text>
<line x1="358.50" y1="272.00" x2="358.50" y2="420.80" stroke="#111" stroke-width="1.1"/>
<line x1="358.00" y1="420.50" x2="513.20" y2="420.50" stroke="#111" stroke-width="1.1"/>
<line x1="355.20" y1="420.50" x2="358.50" y2="420.50" stroke="#111" stroke-width="1"/>
<text x="352.80" y="423.30" font-size="8.6" text-anchor="end" fill="#151515" textLength="4.50" lengthAdjust="spacingAndGlyphs">0</text>
<line x1="355.20" y1="397.50" x2="358.50" y2="397.50" stroke="#111" stroke-width="1"/>
<text x="352.80" y="400.15" font-size="8.6" text-anchor="end" fill="#151515" textLength="4.50" lengthAdjust="spacingAndGlyphs">5</text>
<line x1="355.20" y1="374.50" x2="358.50" y2="374.50" stroke="#111" stroke-width="1"/>
<text x="352.80" y="377.00" font-size="8.6" text-anchor="end" fill="#151515" textLength="9.00" lengthAdjust="spacingAndGlyphs">10</text>
<line x1="355.20" y1="350.50" x2="358.50" y2="350.50" stroke="#111" stroke-width="1"/>
<text x="352.80" y="353.85" font-size="8.6" text-anchor="end" fill="#151515" textLength="9.00" lengthAdjust="spacingAndGlyphs">15</text>
<line x1="355.20" y1="327.50" x2="358.50" y2="327.50" stroke="#111" stroke-width="1"/>
<text x="352.80" y="330.70" font-size="8.6" text-anchor="end" fill="#151515" textLength="9.00" lengthAdjust="spacingAndGlyphs">20</text>
<line x1="355.20" y1="304.50" x2="358.50" y2="304.50" stroke="#111" stroke-width="1"/>
<text x="352.80" y="307.55" font-size="8.6" text-anchor="end" fill="#151515" textLength="9.00" lengthAdjust="spacingAndGlyphs">25</text>
<line x1="355.20" y1="281.50" x2="358.50" y2="281.50" stroke="#111" stroke-width="1"/>
<text x="352.80" y="284.40" font-size="8.6" text-anchor="end" fill="#151515" textLength="9.00" lengthAdjust="spacingAndGlyphs">30</text>
<text x="337.80" y="345.70" font-size="9.6" text-anchor="middle" fill="#151515" textLength="101.90" lengthAdjust="spacingAndGlyphs" transform="rotate(-90 337.80 345.70)">Time to vessel occlusion (min)</text>
<line x1="358.50" y1="420.30" x2="358.50" y2="423.60" stroke="#111" stroke-width="1"/>
<text x="358.30" y="433.40" font-size="8.4" text-anchor="middle" fill="#151515">0</text>
<line x1="380.50" y1="420.30" x2="380.50" y2="423.60" stroke="#111" stroke-width="1"/>
<text x="380.60" y="433.40" font-size="8.4" text-anchor="middle" fill="#151515">2</text>
<line x1="402.50" y1="420.30" x2="402.50" y2="423.60" stroke="#111" stroke-width="1"/>
<text x="402.90" y="433.40" font-size="8.4" text-anchor="middle" fill="#151515">4</text>
<line x1="425.50" y1="420.30" x2="425.50" y2="423.60" stroke="#111" stroke-width="1"/>
<text x="425.20" y="433.40" font-size="8.4" text-anchor="middle" fill="#151515">6</text>
<line x1="447.50" y1="420.30" x2="447.50" y2="423.60" stroke="#111" stroke-width="1"/>
<text x="447.50" y="433.40" font-size="8.4" text-anchor="middle" fill="#151515">8</text>
<line x1="469.50" y1="420.30" x2="469.50" y2="423.60" stroke="#111" stroke-width="1"/>
<text x="469.80" y="433.40" font-size="8.4" text-anchor="middle" fill="#151515" textLength="8.40" lengthAdjust="spacingAndGlyphs">10</text>
<line x1="492.50" y1="420.30" x2="492.50" y2="423.60" stroke="#111" stroke-width="1"/>
<text x="492.10" y="433.40" font-size="8.4" text-anchor="middle" fill="#151515" textLength="8.40" lengthAdjust="spacingAndGlyphs">12</text>
<text x="435.60" y="446.30" font-size="8.4" text-anchor="middle" fill="#151515" textLength="44.70" lengthAdjust="spacingAndGlyphs">Dose (<tspan font-style="italic">µ</tspan>g/kg)</text>
<line x1="359.50" y1="394.7" x2="381" y2="394.7" stroke="#333" stroke-width="0.9" stroke-dasharray="1 1.2"/>
<path d="M358.30 281.40 L358.49 281.40 L358.69 281.40 L358.88 281.40 L359.08 281.40 L359.27 281.40 L359.46 281.40 L359.66 281.40 L359.85 281.40 L360.05 281.40 L360.24 281.40 L360.43 281.40 L360.63 281.40 L360.82 281.40 L361.02 281.40 L361.21 281.40 L361.40 281.40 L361.60 281.40 L361.79 281.40 L361.99 281.40 L362.18 281.40 L362.37 281.40 L362.57 281.40 L362.76 281.40 L362.96 281.40 L363.15 281.40 L363.34 281.40 L363.54 281.40 L363.73 281.40 L363.93 281.40 L364.12 281.40 L364.31 281.40 L364.51 281.40 L364.70 281.40 L364.90 281.40 L365.09 281.40 L365.28 281.40 L365.48 281.41 L365.67 281.41 L365.86 281.42 L366.06 281.43 L366.25 281.45 L366.45 281.47 L366.64 281.50 L366.83 281.56 L367.03 281.63 L367.22 281.74 L367.42 281.90 L367.61 282.12 L367.80 282.44 L368.00 282.87 L368.19 283.48 L368.39 284.30 L368.58 285.42 L368.77 286.90 L368.97 288.87 L369.16 291.40 L369.36 294.63 L369.55 298.65 L369.74 303.53 L369.94 309.27 L370.13 315.82 L370.33 323.03 L370.52 330.68 L370.71 338.49 L370.91 346.16 L371.10 353.44 L371.30 360.10 L371.49 366.03 L371.68 371.18 L371.88 375.55 L372.07 379.20 L372.27 382.21 L372.46 384.66 L372.65 386.65 L372.85 388.25 L373.04 389.53 L373.24 390.55 L373.43 391.37 L373.62 392.02 L373.82 392.54 L374.01 392.96 L374.21 393.29 L374.40 393.56 L374.59 393.77 L374.79 393.95 L374.98 394.08 L375.18 394.20 L375.37 394.29 L375.56 394.36 L375.76 394.42 L375.95 394.47 L376.15 394.51 L376.34 394.54 L376.53 394.57 L376.73 394.59 L376.92 394.61 L377.12 394.62 L377.31 394.63 L377.50 394.64 L377.70 394.65 L377.89 394.66 L378.09 394.67 L378.28 394.67 L378.47 394.67 L378.67 394.68 L378.86 394.68 L379.06 394.68 L379.25 394.68 L379.44 394.69 L379.64 394.69 L379.83 394.69 L380.03 394.69 L380.22 394.69 L380.41 394.69 L380.61 394.69 L380.80 394.69 L380.99 394.69 L381.19 394.69 L381.38 394.69 L381.58 394.69 L381.77 394.69 L381.96 394.69 L382.16 394.69 L382.35 394.70 L382.55 394.70 L382.74 394.70 L382.93 394.70 L383.13 394.70 L383.32 394.70 L383.52 394.70 L383.71 394.70 L383.90 394.70 L384.10 394.70 L384.29 394.70 L384.49 394.70 L384.68 394.70 L384.87 394.70 L385.07 394.70 L385.26 394.70 L385.46 394.70 L385.65 394.70 L385.84 394.70 L386.04 394.70 L386.23 394.70 L386.43 394.70 L386.62 394.70 L386.81 394.70 L387.01 394.70 L387.20 394.70 L387.40 394.70 L387.59 394.70 L387.78 394.70 L387.98 394.70 L388.17 394.70 L388.37 394.70 L388.56 394.70 L388.75 394.70 L388.95 394.70 L389.14 394.70 L389.34 394.70 L389.53 394.70 L389.72 394.70 L389.92 394.70 L390.11 394.70 L390.31 394.70 L390.50 394.70 L390.69 394.70 L390.89 394.70 L391.08 394.70 L391.28 394.70 L391.47 394.70 L391.66 394.70 L391.86 394.70 L392.05 394.70 L392.25 394.70 L392.44 394.70 L392.63 394.70 L392.83 394.70 L393.02 394.70 L393.22 394.70 L393.41 394.70 L393.60 394.70 L393.80 394.70 L393.99 394.70 L394.19 394.70 L394.38 394.70 L394.57 394.70 L394.77 394.70 L394.96 394.70 L395.16 394.70 L395.35 394.70 L395.54 394.70 L395.74 394.70 L395.93 394.70 L396.12 394.70 L396.32 394.70 L396.51 394.70 L396.71 394.70 L396.90 394.70 L397.09 394.70 L397.29 394.70 L397.48 394.70 L397.68 394.70 L397.87 394.70 L398.06 394.70 L398.26 394.70 L398.45 394.70 L398.65 394.70 L398.84 394.70 L399.03 394.70 L399.23 394.70 L399.42 394.70 L399.62 394.70 L399.81 394.70 L400.00 394.70 L400.20 394.70 L400.39 394.70 L400.59 394.70 L400.78 394.70 L400.97 394.70 L401.17 394.70 L401.36 394.70 L401.56 394.70 L401.75 394.70 L401.94 394.70 L402.14 394.70 L402.33 394.70 L402.53 394.70 L402.72 394.70 L402.91 394.70 L403.11 394.70 L403.30 394.70 L403.50 394.70 L403.69 394.70 L403.88 394.70 L404.08 394.70 L404.27 394.70 L404.47 394.70 L404.66 394.70 L404.85 394.70 L405.05 394.70 L405.24 394.70 L405.44 394.70 L405.63 394.70 L405.82 394.70 L406.02 394.70 L406.21 394.70 L406.41 394.70 L406.60 394.70 L406.79 394.70 L406.99 394.70 L407.18 394.70 L407.38 394.70 L407.57 394.70 L407.76 394.70 L407.96 394.70 L408.15 394.70 L408.35 394.70 L408.54 394.70 L408.73 394.70 L408.93 394.70 L409.12 394.70 L409.32 394.70 L409.51 394.70 L409.70 394.70 L409.90 394.70 L410.09 394.70 L410.28 394.70 L410.48 394.70 L410.67 394.70 L410.87 394.70 L411.06 394.70 L411.25 394.70 L411.45 394.70 L411.64 394.70 L411.84 394.70 L412.03 394.70 L412.22 394.70 L412.42 394.70 L412.61 394.70 L412.81 394.70 L413.00 394.70 L413.19 394.70 L413.39 394.70 L413.58 394.70 L413.78 394.70 L413.97 394.70 L414.16 394.70 L414.36 394.70 L414.55 394.70 L414.75 394.70 L414.94 394.70 L415.13 394.70 L415.33 394.70 L415.52 394.70 L415.72 394.70 L415.91 394.70 L416.10 394.70 L416.30 394.70 L416.49 394.70 L416.69 394.70 L416.88 394.70 L417.07 394.70 L417.27 394.70 L417.46 394.70 L417.66 394.70 L417.85 394.70 L418.04 394.70 L418.24 394.70 L418.43 394.70 L418.63 394.70 L418.82 394.70 L419.01 394.70 L419.21 394.70 L419.40 394.70 L419.60 394.70 L419.79 394.70 L419.98 394.70 L420.18 394.70 L420.37 394.70 L420.57 394.70 L420.76 394.70 L420.95 394.70 L421.15 394.70 L421.34 394.70 L421.54 394.70 L421.73 394.70 L421.92 394.70 L422.12 394.70 L422.31 394.70 L422.51 394.70 L422.70 394.70 L422.89 394.70 L423.09 394.70 L423.28 394.70 L423.48 394.70 L423.67 394.70 L423.86 394.70 L424.06 394.70 L424.25 394.70 L424.45 394.70 L424.64 394.70 L424.83 394.70 L425.03 394.70 L425.22 394.70 L425.41 394.70 L425.61 394.70 L425.80 394.70 L426.00 394.70 L426.19 394.70 L426.38 394.70 L426.58 394.70 L426.77 394.70 L426.97 394.70 L427.16 394.70 L427.35 394.70 L427.55 394.70 L427.74 394.70 L427.94 394.70 L428.13 394.70 L428.32 394.70 L428.52 394.70 L428.71 394.70 L428.91 394.70 L429.10 394.70 L429.29 394.70 L429.49 394.70 L429.68 394.70 L429.88 394.70 L430.07 394.70 L430.26 394.70 L430.46 394.70 L430.65 394.70 L430.85 394.70 L431.04 394.70 L431.23 394.70 L431.43 394.70 L431.62 394.70 L431.82 394.70 L432.01 394.70 L432.20 394.70 L432.40 394.70 L432.59 394.70 L432.79 394.70 L432.98 394.70 L433.17 394.70 L433.37 394.70 L433.56 394.70 L433.76 394.70 L433.95 394.70 L434.14 394.70 L434.34 394.70 L434.53 394.70 L434.73 394.70 L434.92 394.70 L435.11 394.70 L435.31 394.70 L435.50 394.70 L435.70 394.70 L435.89 394.70 L436.08 394.70 L436.28 394.70 L436.47 394.70 L436.67 394.70 L436.86 394.70 L437.05 394.70 L437.25 394.70 L437.44 394.70 L437.64 394.70 L437.83 394.70 L438.02 394.70 L438.22 394.70 L438.41 394.70 L438.61 394.70 L438.80 394.70 L438.99 394.70 L439.19 394.70 L439.38 394.70 L439.57 394.70 L439.77 394.70 L439.96 394.70 L440.16 394.70 L440.35 394.70 L440.54 394.70 L440.74 394.70 L440.93 394.70 L441.13 394.70 L441.32 394.70 L441.51 394.70 L441.71 394.70 L441.90 394.70 L442.10 394.70 L442.29 394.70 L442.48 394.70 L442.68 394.70 L442.87 394.70 L443.07 394.70 L443.26 394.70 L443.45 394.70 L443.65 394.70 L443.84 394.70 L444.04 394.70 L444.23 394.70 L444.42 394.70 L444.62 394.70 L444.81 394.70 L445.01 394.70 L445.20 394.70 L445.39 394.70 L445.59 394.70 L445.78 394.70 L445.98 394.70 L446.17 394.70 L446.36 394.70 L446.56 394.70 L446.75 394.70 L446.95 394.70 L447.14 394.70 L447.33 394.70 L447.53 394.70 L447.72 394.70 L447.92 394.70 L448.11 394.70 L448.30 394.70 L448.50 394.70 L448.69 394.70 L448.89 394.70 L449.08 394.70 L449.27 394.70 L449.47 394.70 L449.66 394.70 L449.86 394.70 L450.05 394.70 L450.24 394.70 L450.44 394.70 L450.63 394.70 L450.83 394.70 L451.02 394.70 L451.21 394.70 L451.41 394.70 L451.60 394.70 L451.80 394.70 L451.99 394.70 L452.18 394.70 L452.38 394.70 L452.57 394.70 L452.77 394.70 L452.96 394.70 L453.15 394.70 L453.35 394.70 L453.54 394.70 L453.74 394.70 L453.93 394.70 L454.12 394.70 L454.32 394.70 L454.51 394.70 L454.70 394.70 L454.90 394.70 L455.09 394.70 L455.29 394.70 L455.48 394.70 L455.67 394.70 L455.87 394.70 L456.06 394.70 L456.26 394.70 L456.45 394.70 L456.64 394.70 L456.84 394.70 L457.03 394.70 L457.23 394.70 L457.42 394.70 L457.61 394.70 L457.81 394.70 L458.00 394.70 L458.20 394.70 L458.39 394.70 L458.58 394.70 L458.78 394.70 L458.97 394.70 L459.17 394.70 L459.36 394.70 L459.55 394.70 L459.75 394.70 L459.94 394.70 L460.14 394.70 L460.33 394.70 L460.52 394.70 L460.72 394.70 L460.91 394.70 L461.11 394.70 L461.30 394.70 L461.49 394.70 L461.69 394.70 L461.88 394.70 L462.08 394.70 L462.27 394.70 L462.46 394.70 L462.66 394.70 L462.85 394.70 L463.05 394.70 L463.24 394.70 L463.43 394.70 L463.63 394.70 L463.82 394.70 L464.02 394.70 L464.21 394.70 L464.40 394.70 L464.60 394.70 L464.79 394.70 L464.99 394.70 L465.18 394.70 L465.37 394.70 L465.57 394.70 L465.76 394.70 L465.96 394.70 L466.15 394.70 L466.34 394.70 L466.54 394.70 L466.73 394.70 L466.93 394.70 L467.12 394.70 L467.31 394.70 L467.51 394.70 L467.70 394.70 L467.90 394.70 L468.09 394.70 L468.28 394.70 L468.48 394.70 L468.67 394.70 L468.87 394.70 L469.06 394.70 L469.25 394.70 L469.45 394.70 L469.64 394.70 L469.83 394.70 L470.03 394.70 L470.22 394.70 L470.42 394.70 L470.61 394.70 L470.80 394.70 L471.00 394.70 L471.19 394.70 L471.39 394.70 L471.58 394.70 L471.77 394.70 L471.97 394.70 L472.16 394.70 L472.36 394.70 L472.55 394.70 L472.74 394.70 L472.94 394.70 L473.13 394.70 L473.33 394.70 L473.52 394.70 L473.71 394.70 L473.91 394.70 L474.10 394.70 L474.30 394.70 L474.49 394.70 L474.68 394.70 L474.88 394.70 L475.07 394.70 L475.27 394.70 L475.46 394.70 L475.65 394.70 L475.85 394.70 L476.04 394.70 L476.24 394.70 L476.43 394.70 L476.62 394.70 L476.82 394.70 L477.01 394.70 L477.21 394.70 L477.40 394.70 L477.59 394.70 L477.79 394.70 L477.98 394.70 L478.18 394.70 L478.37 394.70 L478.56 394.70 L478.76 394.70 L478.95 394.70 L479.15 394.70 L479.34 394.70 L479.53 394.70 L479.73 394.70 L479.92 394.70 L480.12 394.70 L480.31 394.70 L480.50 394.70 L480.70 394.70 L480.89 394.70 L481.09 394.70 L481.28 394.70 L481.47 394.70 L481.67 394.70 L481.86 394.70 L482.06 394.70 L482.25 394.70 L482.44 394.70 L482.64 394.70 L482.83 394.70 L483.03 394.70 L483.22 394.70 L483.41 394.70 L483.61 394.70 L483.80 394.70 L483.99 394.70 L484.19 394.70 L484.38 394.70 L484.58 394.70 L484.77 394.70 L484.96 394.70 L485.16 394.70 L485.35 394.70 L485.55 394.70 L485.74 394.70 L485.93 394.70 L486.13 394.70 L486.32 394.70 L486.52 394.70 L486.71 394.70 L486.90 394.70 L487.10 394.70 L487.29 394.70 L487.49 394.70 L487.68 394.70 L487.87 394.70 L488.07 394.70 L488.26 394.70 L488.46 394.70 L488.65 394.70 L488.84 394.70 L489.04 394.70 L489.23 394.70 L489.43 394.70 L489.62 394.70 L489.81 394.70 L490.01 394.70 L490.20 394.70 L490.40 394.70 L490.59 394.70 L490.78 394.70 L490.98 394.70 L491.17 394.70 L491.37 394.70 L491.56 394.70 L491.75 394.70 L491.95 394.70 L492.14 394.70 L492.34 394.70 L492.53 394.70 L492.72 394.70 L492.92 394.70 L493.11 394.70 L493.31 394.70 L493.50 394.70 L493.69 394.70 L493.89 394.70 L494.08 394.70 L494.28 394.70 L494.47 394.70 L494.66 394.70 L494.86 394.70 L495.05 394.70 L495.25 394.70 L495.44 394.70 L495.63 394.70 L495.83 394.70 L496.02 394.70 L496.22 394.70 L496.41 394.70 L496.60 394.70 L496.80 394.70 L496.99 394.70 L497.19 394.70 L497.38 394.70 L497.57 394.70 L497.77 394.70 L497.96 394.70 L498.16 394.70 L498.35 394.70 L498.54 394.70 L498.74 394.70 L498.93 394.70 L499.12 394.70 L499.32 394.70 L499.51 394.70 L499.71 394.70 L499.90 394.70 L500.09 394.70 L500.29 394.70 L500.48 394.70 L500.68 394.70 L500.87 394.70 L501.06 394.70 L501.26 394.70 L501.45 394.70 L501.65 394.70 L501.84 394.70 L502.03 394.70 L502.23 394.70 L502.42 394.70 L502.62 394.70 L502.81 394.70 L503.00 394.70 L503.20 394.70 L503.39 394.70 L503.59 394.70 L503.78 394.70 L503.97 394.70 L504.17 394.70 L504.36 394.70 L504.56 394.70 L504.75 394.70 L504.94 394.70 L505.14 394.70 L505.33 394.70 L505.53 394.70 L505.72 394.70 L505.91 394.70 L506.11 394.70 L506.30 394.70 L506.50 394.70 L506.69 394.70 L506.88 394.70 L507.08 394.70 L507.27 394.70 L507.47 394.70 L507.66 394.70 L507.85 394.70 L508.05 394.70 L508.24 394.70 L508.44 394.70 L508.63 394.70 L508.82 394.70 L509.02 394.70 L509.21 394.70 L509.41 394.70 L509.60 394.70 L509.79 394.70 L509.99 394.70 L510.18 394.70 L510.38 394.70 L510.57 394.70 L510.76 394.70 L510.96 394.70 L511.15 394.70 L511.35 394.70 L511.54 394.70 L511.73 394.70 L511.93 394.70 L512.12 394.70 L512.32 394.70 L512.51 394.70 L512.70 394.70 L512.90 394.70 L513.09 394.70 L513.29 394.70" fill="none" stroke="#b3163a" stroke-width="1.3" stroke-linejoin="round"/>
<path d="M358.30 279.87 L359.08 279.87 L359.86 279.88 L360.64 279.89 L361.42 279.91 L362.19 279.95 L362.97 280.01 L363.75 280.09 L364.53 280.21 L365.31 280.37 L366.09 280.57 L366.87 280.82 L367.65 281.12 L368.42 281.48 L369.20 281.91 L369.98 282.41 L370.76 282.98 L371.54 283.63 L372.32 284.36 L373.10 285.17 L373.88 286.08 L374.66 287.07 L375.43 288.15 L376.21 289.32 L376.99 290.58 L377.77 291.92 L378.55 293.36 L379.33 294.88 L380.11 296.47 L380.89 298.14 L381.66 299.89 L382.44 301.69 L383.22 303.56 L384.00 305.48 L384.78 307.44 L385.56 309.45 L386.34 311.49 L387.12 313.55 L387.90 315.63 L388.67 317.72 L389.45 319.82 L390.23 321.92 L391.01 324.01 L391.79 326.08 L392.57 328.14 L393.35 330.18 L394.13 332.19 L394.90 334.16 L395.68 336.11 L396.46 338.01 L397.24 339.88 L398.02 341.70 L398.80 343.48 L399.58 345.21 L400.36 346.90 L401.14 348.54 L401.91 350.13 L402.69 351.67 L403.47 353.16 L404.25 354.61 L405.03 356.00 L405.81 357.35 L406.59 358.66 L407.37 359.92 L408.14 361.13 L408.92 362.30 L409.70 363.43 L410.48 364.51 L411.26 365.56 L412.04 366.57 L412.82 367.54 L413.60 368.47 L414.37 369.36 L415.15 370.22 L415.93 371.05 L416.71 371.85 L417.49 372.62 L418.27 373.35 L419.05 374.06 L419.83 374.74 L420.61 375.40 L421.38 376.03 L422.16 376.63 L422.94 377.21 L423.72 377.77 L424.50 378.31 L425.28 378.83 L426.06 379.32 L426.84 379.80 L427.61 380.26 L428.39 380.71 L429.17 381.13 L429.95 381.54 L430.73 381.94 L431.51 382.32 L432.29 382.68 L433.07 383.04 L433.85 383.38 L434.62 383.70 L435.40 384.02 L436.18 384.32 L436.96 384.62 L437.74 384.90 L438.52 385.17 L439.30 385.44 L440.08 385.69 L440.85 385.94 L441.63 386.17 L442.41 386.40 L443.19 386.62 L443.97 386.84 L444.75 387.04 L445.53 387.24 L446.31 387.43 L447.09 387.62 L447.86 387.80 L448.64 387.97 L449.42 388.14 L450.20 388.30 L450.98 388.46 L451.76 388.61 L452.54 388.76 L453.32 388.90 L454.09 389.04 L454.87 389.18 L455.65 389.31 L456.43 389.43 L457.21 389.55 L457.99 389.67 L458.77 389.79 L459.55 389.90 L460.33 390.00 L461.10 390.11 L461.88 390.21 L462.66 390.31 L463.44 390.40 L464.22 390.50 L465.00 390.59 L465.78 390.68 L466.56 390.76 L467.33 390.84 L468.11 390.92 L468.89 391.00 L469.67 391.08 L470.45 391.15 L471.23 391.22 L472.01 391.29 L472.79 391.36 L473.57 391.43 L474.34 391.49 L475.12 391.55 L475.90 391.61 L476.68 391.67 L477.46 391.73 L478.24 391.79 L479.02 391.84 L479.80 391.89 L480.57 391.95 L481.35 392.00 L482.13 392.05 L482.91 392.09 L483.69 392.14 L484.47 392.19 L485.25 392.23 L486.03 392.27 L486.81 392.32 L487.58 392.36 L488.36 392.40 L489.14 392.44 L489.92 392.47 L490.70 392.51 L491.48 392.55 L492.26 392.58 L493.04 392.62 L493.81 392.65 L494.59 392.69 L495.37 392.72 L496.15 392.75 L496.93 392.78 L497.71 392.81 L498.49 392.84 L499.27 392.87 L500.05 392.90 L500.82 392.92 L501.60 392.95 L502.38 392.98 L503.16 393.00 L503.94 393.03 L504.72 393.05 L505.50 393.08 L506.28 393.10 L507.05 393.12 L507.83 393.15 L508.61 393.17 L509.39 393.19 L510.17 393.21 L510.95 393.23 L511.73 393.25 L512.51 393.27 L513.29 393.29" fill="none" stroke="#1d3f85" stroke-width="1.3" stroke-linejoin="round"/>
<line x1="369.50" y1="281.90" x2="369.50" y2="322.40" stroke="#222" stroke-width="1.1"/>
<line x1="366.95" y1="281.50" x2="371.95" y2="281.50" stroke="#222" stroke-width="1.1"/>
<line x1="366.95" y1="322.50" x2="371.95" y2="322.50" stroke="#222" stroke-width="1.1"/>
<line x1="372.50" y1="363.70" x2="372.50" y2="373.60" stroke="#222" stroke-width="1.1"/>
<line x1="369.74" y1="363.50" x2="374.74" y2="363.50" stroke="#222" stroke-width="1.1"/>
<line x1="369.74" y1="373.50" x2="374.74" y2="373.50" stroke="#222" stroke-width="1.1"/>
<line x1="380.50" y1="379.00" x2="380.50" y2="394.70" stroke="#222" stroke-width="1.1"/>
<line x1="378.10" y1="379.50" x2="383.10" y2="379.50" stroke="#222" stroke-width="1.1"/>
<line x1="378.10" y1="394.50" x2="383.10" y2="394.50" stroke="#222" stroke-width="1.1"/>
<line x1="414.50" y1="357.70" x2="414.50" y2="383.20" stroke="#222" stroke-width="1.1"/>
<line x1="411.55" y1="357.50" x2="416.55" y2="357.50" stroke="#222" stroke-width="1.1"/>
<line x1="411.55" y1="383.50" x2="416.55" y2="383.50" stroke="#222" stroke-width="1.1"/>
<line x1="469.50" y1="379.60" x2="469.50" y2="394.20" stroke="#333" stroke-width="1"/>
<line x1="467.30" y1="394.50" x2="472.30" y2="394.50" stroke="#333" stroke-width="1"/>
<path d="M358.60 279.20L360.70 283.20L356.50 283.20Z" fill="#ad0a26"/>
<rect x="356.80" y="279.40" width="3.6" height="3.6" fill="#15387f"/>
<rect x="370.70" y="279.70" width="3.2" height="3.2" fill="#15387f"/>
<rect x="412.45" y="372.50" width="3.2" height="3.2" fill="#15387f"/>
<rect x="468.20" y="378.00" width="3.2" height="3.2" fill="#15387f"/>
<path d="M369.30 279.50L371.40 283.50L367.20 283.50Z" fill="#ad0a26"/>
<path d="M372.60 365.10L374.70 369.10L370.50 369.10Z" fill="#ad0a26"/>
<path d="M380.70 382.40L382.80 386.40L378.60 386.40Z" fill="#ad0a26"/>
<rect x="467.70" y="283.60" width="3.0" height="3.0" fill="#15387f"/>
<text x="474.20" y="287.50" font-size="7.3" text-anchor="start" fill="#151515" textLength="28.00" lengthAdjust="spacingAndGlyphs">FVIII-WT</text>
<path d="M469.20 294.62L471.30 298.42L467.10 298.42Z" fill="#ad0a26"/>
<text x="474.20" y="298.70" font-size="7.3" text-anchor="start" fill="#151515" textLength="29.60" lengthAdjust="spacingAndGlyphs">FVIII-QQ</text>
<rect x="0" y="0" width="520" height="486" fill="none" stroke="#000" stroke-width="2.5"/>
</svg>
</body></html>
